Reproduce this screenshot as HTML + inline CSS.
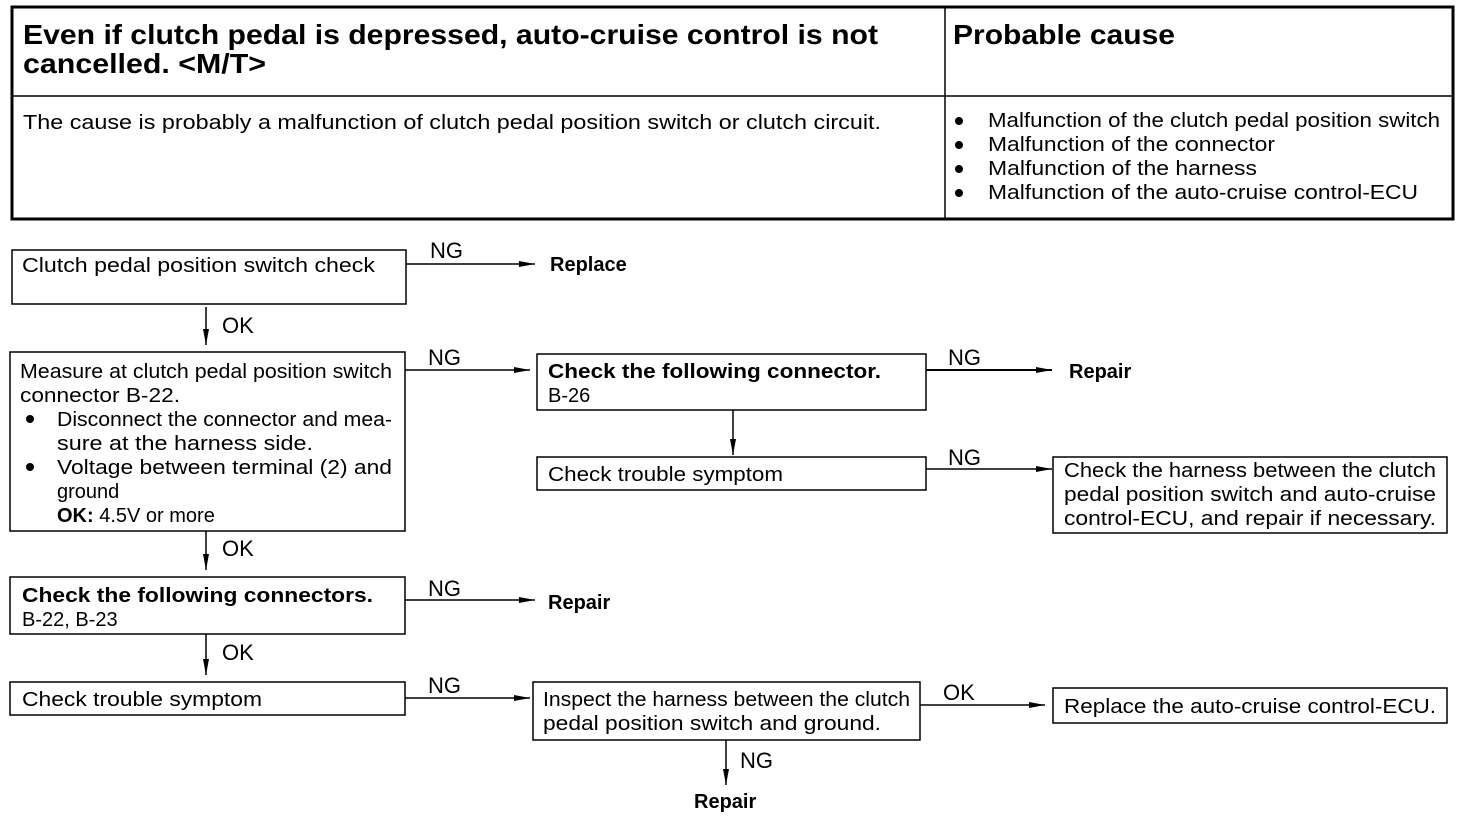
<!DOCTYPE html>
<html><head><meta charset="utf-8"><style>
html,body{margin:0;padding:0;background:#fff}
svg{display:block}
text{font-family:"Liberation Sans",Arial,sans-serif;font-size:20px;fill:#000}
.b{font-weight:bold}
.t{font-size:28px;font-weight:bold}
.l{font-size:22px}
</style></head><body>
<svg width="1472" height="820" viewBox="0 0 1472 820" xmlns="http://www.w3.org/2000/svg">
<defs><marker id="a" markerWidth="16" markerHeight="8" refX="16" refY="4" orient="auto" markerUnits="userSpaceOnUse"><path d="M0,1 L16,4 L0,7 Z" fill="#000"/></marker></defs>
<g fill="none" stroke="#000">
<rect x="12" y="7" width="1441" height="212" stroke-width="3"/>
<line x1="945" y1="7" x2="945" y2="219" stroke-width="1.5"/>
<line x1="12" y1="96" x2="1453" y2="96" stroke-width="1.5"/>
<g stroke-width="1.5">
<rect x="12" y="250" width="394" height="54"/>
<rect x="10" y="352" width="395" height="179"/>
<rect x="537" y="354" width="389" height="56"/>
<rect x="537" y="457" width="389" height="33"/>
<rect x="1053" y="457" width="394" height="76"/>
<rect x="10" y="577" width="395" height="57"/>
<rect x="10" y="682" width="395" height="33"/>
<rect x="533" y="682" width="387" height="58"/>
<rect x="1053" y="688" width="394" height="35"/>
</g>
<g stroke-width="1.5" marker-end="url(#a)">
<line x1="406" y1="264" x2="535" y2="264"/>
<line x1="206" y1="307" x2="206" y2="345"/>
<line x1="405" y1="370" x2="530" y2="370"/>
<line x1="926" y1="370" x2="1052" y2="370" stroke-width="2"/>
<line x1="733" y1="410" x2="733" y2="455"/>
<line x1="926" y1="469" x2="1052" y2="469"/>
<line x1="206" y1="531" x2="206" y2="570"/>
<line x1="405" y1="600" x2="535" y2="600"/>
<line x1="206" y1="634" x2="206" y2="675"/>
<line x1="405" y1="698" x2="530" y2="698"/>
<line x1="920" y1="705" x2="1045" y2="705"/>
<line x1="726" y1="740" x2="726" y2="785"/>
</g>
</g>
<text class="t" x="23" y="44" textLength="855" lengthAdjust="spacingAndGlyphs">Even if clutch pedal is depressed, auto-cruise control is not</text>
<text class="t" x="23" y="73" textLength="243" lengthAdjust="spacingAndGlyphs">cancelled. &lt;M/T&gt;</text>
<text class="t" x="953" y="44" textLength="222" lengthAdjust="spacingAndGlyphs">Probable cause</text>
<text x="23" y="129" textLength="858" lengthAdjust="spacingAndGlyphs">The cause is probably a malfunction of clutch pedal position switch or clutch circuit.</text>
<g>
<circle cx="959" cy="121" r="4"/><circle cx="959" cy="145" r="4"/><circle cx="959" cy="169" r="4"/><circle cx="959" cy="193" r="4"/>
<text x="988" y="127" textLength="452" lengthAdjust="spacingAndGlyphs">Malfunction of the clutch pedal position switch</text>
<text x="988" y="151" textLength="287" lengthAdjust="spacingAndGlyphs">Malfunction of the connector</text>
<text x="988" y="175" textLength="269" lengthAdjust="spacingAndGlyphs">Malfunction of the harness</text>
<text x="988" y="199" textLength="430" lengthAdjust="spacingAndGlyphs">Malfunction of the auto-cruise control-ECU</text>
</g>
<text x="22" y="272" textLength="353" lengthAdjust="spacingAndGlyphs">Clutch pedal position switch check</text>
<text class="l" x="430" y="258">NG</text><text class="b" x="550" y="271">Replace</text>
<text class="l" x="222" y="333">OK</text>
<text x="20" y="378" textLength="372" lengthAdjust="spacingAndGlyphs">Measure at clutch pedal position switch</text>
<text x="20" y="402" textLength="160" lengthAdjust="spacingAndGlyphs">connector B-22.</text>
<circle cx="30" cy="419" r="4"/>
<text x="57" y="426" textLength="335" lengthAdjust="spacingAndGlyphs">Disconnect the connector and mea-</text>
<text x="57" y="450" textLength="256" lengthAdjust="spacingAndGlyphs">sure at the harness side.</text>
<circle cx="30" cy="467" r="4"/>
<text x="57" y="474" textLength="335" lengthAdjust="spacingAndGlyphs">Voltage between terminal (2) and</text>
<text x="57" y="498">ground</text>
<text x="57" y="522"><tspan class="b">OK:</tspan> 4.5V or more</text>
<text class="l" x="428" y="365">NG</text>
<text class="b" x="548" y="378" textLength="333" lengthAdjust="spacingAndGlyphs">Check the following connector.</text>
<text x="548" y="402">B-26</text>
<text class="l" x="948" y="365">NG</text><text class="b" x="1069" y="378">Repair</text>
<text x="548" y="481" textLength="235" lengthAdjust="spacingAndGlyphs">Check trouble symptom</text>
<text class="l" x="948" y="465">NG</text>
<text x="1064" y="477" textLength="372" lengthAdjust="spacingAndGlyphs">Check the harness between the clutch</text>
<text x="1064" y="501" textLength="372" lengthAdjust="spacingAndGlyphs">pedal position switch and auto-cruise</text>
<text x="1064" y="525" textLength="372" lengthAdjust="spacingAndGlyphs">control-ECU, and repair if necessary.</text>
<text class="l" x="222" y="556">OK</text>
<text class="b" x="22" y="602" textLength="351" lengthAdjust="spacingAndGlyphs">Check the following connectors.</text>
<text x="22" y="626">B-22, B-23</text>
<text class="l" x="428" y="596">NG</text><text class="b" x="548" y="609">Repair</text>
<text class="l" x="222" y="660">OK</text>
<text x="22" y="706" textLength="240" lengthAdjust="spacingAndGlyphs">Check trouble symptom</text>
<text class="l" x="428" y="693">NG</text>
<text x="543" y="706" textLength="367" lengthAdjust="spacingAndGlyphs">Inspect the harness between the clutch</text>
<text x="543" y="730" textLength="338" lengthAdjust="spacingAndGlyphs">pedal position switch and ground.</text>
<text class="l" x="943" y="700">OK</text>
<text x="1064" y="713" textLength="372" lengthAdjust="spacingAndGlyphs">Replace the auto-cruise control-ECU.</text>
<text class="l" x="740" y="768">NG</text>
<text class="b" x="694" y="808">Repair</text>
</svg>
</body></html>
